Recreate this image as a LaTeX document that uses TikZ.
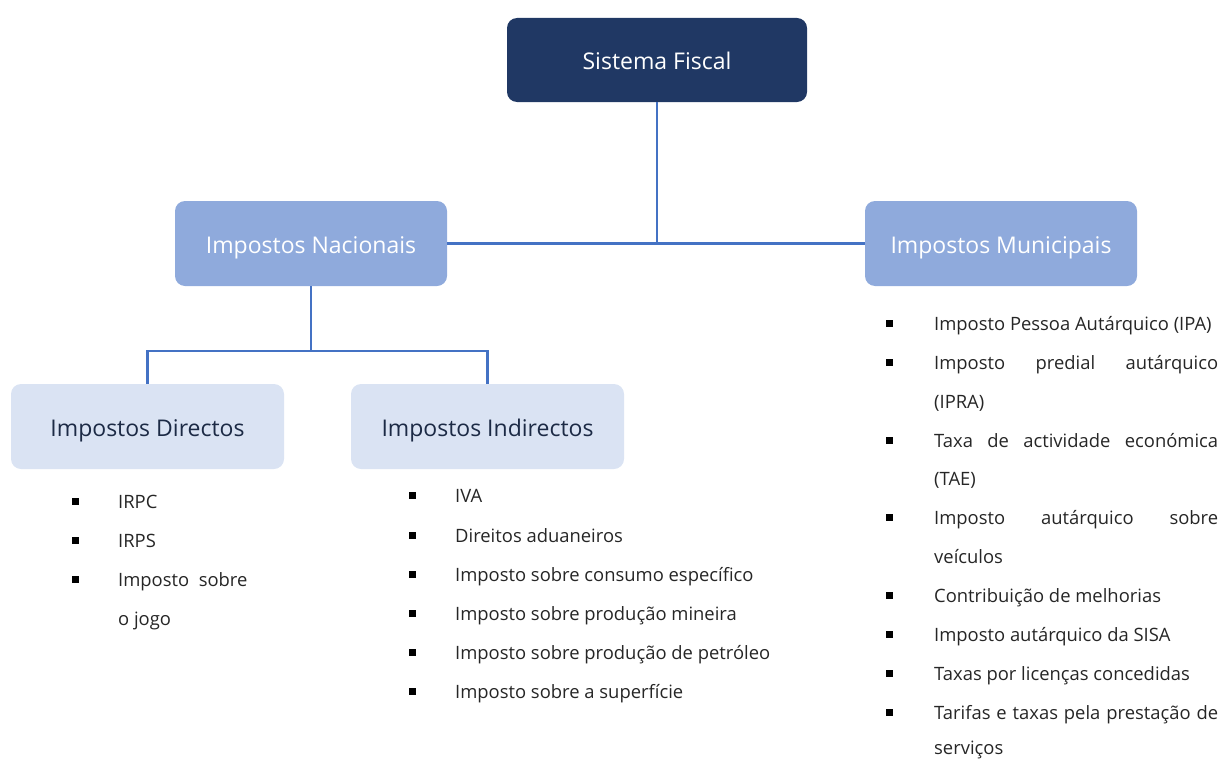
\documentclass[tikz,border=0pt]{standalone}
\usepackage{fontspec}
\setmainfont{Open Sans}
\definecolor{navy}{HTML}{203864}
\definecolor{midblue}{HTML}{8FAADC}
\definecolor{paleblue}{HTML}{DAE3F3}
\definecolor{linkblue}{HTML}{4472C4}
\definecolor{boxtext}{HTML}{1C2A45}
\begin{document}
\begin{tikzpicture}[x=1pt,y=-1pt,
  topbox/.style={rectangle,rounded corners=10pt,fill=navy,text=white,minimum width=300pt,minimum height=84pt,text height=22pt,text depth=2.5pt,font=\fontsize{23}{28}\selectfont},
  midbox/.style={rectangle,rounded corners=10pt,fill=midblue,text=white,minimum width=272pt,minimum height=85pt,text height=22pt,text depth=2.5pt,font=\fontsize{23}{28}\selectfont},
  lowbox/.style={rectangle,rounded corners=10pt,fill=paleblue,text=boxtext,minimum width=273pt,minimum height=85pt,text height=22pt,text depth=2.5pt,font=\fontsize{23}{28}\selectfont},
  link/.style={draw=linkblue,line width=2.8pt},
  itemtxt/.style={anchor=west,inner sep=0pt,text=black!85,text height=16pt,text depth=1pt,font=\fontsize{18.4}{22}\selectfont},
  sqbullet/.style={rectangle,fill=black,inner sep=0pt,minimum size=7pt}]

\useasboundingbox (0,0) rectangle (1222,760);

% boxes
\node[topbox] (sf) at (657,60) {Sistema Fiscal};
\node[midbox] (nac) at (311,243.5) {Impostos Nacionais};
\node[midbox] (mun) at (1001,243.5) {Impostos Municipais};
\node[lowbox] (dir) at (147.5,426.5) {Impostos Directos};
\node[lowbox] (ind) at (487.5,426.5) {Impostos Indirectos};

% connectors
\coordinate (j1) at (657,243);
\coordinate (j2) at (311,351);
\draw[link] (sf.south) -- (j1);
\draw[link] (nac.east) -- (mun.west);
\draw[link] (nac.south) -- (j2);
\draw[link] (j2) -| (dir.north);
\draw[link] (j2) -| (ind.north);

% directos
\foreach \i/\y in {1/501,2/540,3/579}
  \node[sqbullet] (db\i) at (75,\y) {};
\node[itemtxt] (d1) at (118,501) {IRPC};
\node[itemtxt] (d2) at (118,540) {IRPS};
\node[itemtxt] (d3) at (118,579) {Imposto\ \ sobre};
\node[itemtxt] (d4) at (118,618) {o jogo};

% indirectos
\foreach \i/\y/\t in {1/495/IVA,2/535/Direitos aduaneiros,3/574/Imposto sobre consumo específico,4/613/Imposto sobre produção mineira,5/652/Imposto sobre produção de petróleo,6/691/Imposto sobre a superfície}{
  \node[sqbullet] (ib\i) at (412,\y) {};
  \node[itemtxt] (i\i) at (455,\y) {\t};
}

% municipais
\foreach \i/\y in {1/323,2/362,3/440,4/517,5/595,6/634,7/673,8/712}
  \node[sqbullet] (mb\i) at (889,\y) {};
\node[itemtxt] (m1) at (934,323) {Imposto Pessoa Autárquico (IPA)};
\node[itemtxt] (m2) at (934,362) {\hbox to 284pt{Imposto\hfill predial\hfill autárquico}};
\node[itemtxt] (m3) at (934,401) {(IPRA)};
\node[itemtxt] (m4) at (934,440) {\hbox to 284pt{Taxa\hfill de\hfill actividade\hfill económica}};
\node[itemtxt] (m5) at (934,478) {(TAE)};
\node[itemtxt] (m6) at (934,517) {\hbox to 284pt{Imposto\hfill autárquico\hfill sobre}};
\node[itemtxt] (m7) at (934,556) {veículos};
\node[itemtxt] (m8) at (934,595) {Contribuição de melhorias};
\node[itemtxt] (m9) at (934,634) {Imposto autárquico da SISA};
\node[itemtxt] (m10) at (934,673) {Taxas por licenças concedidas};
\node[itemtxt] (m11) at (934,712) {\hbox to 284pt{Tarifas\hfill e\hfill taxas\hfill pela\hfill prestação\hfill de}};
\node[itemtxt] (m12) at (934,747) {serviços};
\end{tikzpicture}
\end{document}
